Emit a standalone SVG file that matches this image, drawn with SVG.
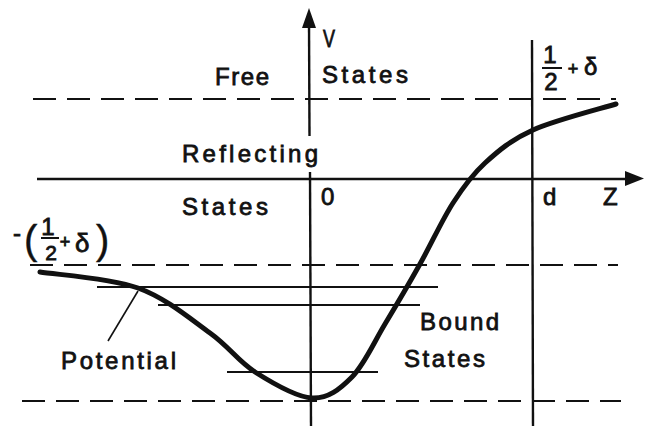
<svg xmlns="http://www.w3.org/2000/svg" width="658" height="426" viewBox="0 0 658 426">
<style>
text{font-family:"Liberation Sans","DejaVu Sans",Arial,sans-serif;fill:#111;stroke:#111;stroke-width:0.8;font-size:24px}
.ax{stroke:#111;stroke-width:2.4;fill:none}
.dash{stroke:#111;stroke-width:2.2;fill:none;stroke-dasharray:23 11}
.lvl{stroke:#111;stroke-width:2;fill:none}
.pot{stroke:#111;stroke-width:5;fill:none;stroke-linecap:round}
.thin{stroke:#111;stroke-width:1.6;fill:none}
</style>
<rect width="658" height="426" fill="#fff"/>
<g id="axes">
<line class="ax" x1="309" y1="22" x2="309.5" y2="136"/>
<line class="ax" x1="310" y1="172" x2="311" y2="426"/>
<polygon points="309,8 316,28 302,28" fill="#111"/>
<line class="ax" x1="37" y1="179" x2="630" y2="179"/>
<polygon points="644,178.5 625,171 625,186" fill="#111"/>
<line class="ax" x1="532" y1="40" x2="533" y2="426"/>
</g>
<g id="levels">
<line class="dash" x1="33" y1="99" x2="616" y2="99"/>
<line class="dash" x1="30" y1="265" x2="618" y2="265"/>
<line class="dash" x1="22" y1="401" x2="621" y2="401"/>
<line class="lvl" x1="97" y1="287" x2="438" y2="287"/>
<line class="lvl" x1="158" y1="305" x2="420" y2="305"/>
<line class="lvl" x1="227" y1="372" x2="378" y2="372"/>
</g>
<g id="potential">
<path class="pot" d="M40,272 C56.3,274.7 109.7,277.8 138,288 C166.3,298.2 190.5,319 210,333 C229.5,347 238,361.2 255,372 C272,382.8 295.8,397.2 312,398 C328.2,398.8 339.8,389.3 352,377 C364.2,364.7 373.7,342.8 385,324 C396.3,305.2 408.7,284.2 420,264 C431.3,243.8 442.2,219.8 453,203 C463.8,186.2 471.7,175.2 485,163 C498.3,150.8 511.2,139.8 533,130 C554.8,120.2 602.2,108.3 616,104"/>
<line class="thin" x1="138" y1="291" x2="108" y2="341"/>
</g>
<g id="labels">
<text x="323" y="47" textLength="12" lengthAdjust="spacingAndGlyphs">V</text>
<text x="215" y="85" textLength="54" lengthAdjust="spacing">Free</text>
<text x="322" y="83" textLength="86" lengthAdjust="spacing">States</text>
<text x="182" y="162" textLength="136" lengthAdjust="spacing">Reflecting</text>
<text x="182" y="215" textLength="86" lengthAdjust="spacing">States</text>
<text x="321" y="205">0</text>
<text x="543" y="205">d</text>
<text x="603" y="205">Z</text>
<text x="420" y="330" textLength="79" lengthAdjust="spacing">Bound</text>
<text x="404" y="367" textLength="81" lengthAdjust="spacing">States</text>
<text x="61" y="369" textLength="115" lengthAdjust="spacing">Potential</text>
</g>
<g id="frac-right">
<text x="550" y="63" text-anchor="middle">1</text>
<line class="lvl" x1="542" y1="68" x2="562" y2="68"/>
<text x="551" y="90" text-anchor="middle">2</text>
<text x="573" y="75" text-anchor="middle" style="font-size:18px">+</text>
<text x="584" y="75">δ</text>
</g>
<g id="frac-left">
<text x="13" y="241">-</text>
<text x="24" y="254" style="font-size:40px;stroke-width:0.4">(</text>
<text x="48" y="235" text-anchor="middle">1</text>
<line class="lvl" x1="41" y1="238" x2="59" y2="238"/>
<text x="51" y="260" text-anchor="middle" style="font-size:21px">2</text>
<text x="65" y="248" text-anchor="middle" style="font-size:18px">+</text>
<text x="75" y="252" style="font-size:26px">δ</text>
<text x="96" y="254" style="font-size:40px;stroke-width:0.4">)</text>
</g>
</svg>
